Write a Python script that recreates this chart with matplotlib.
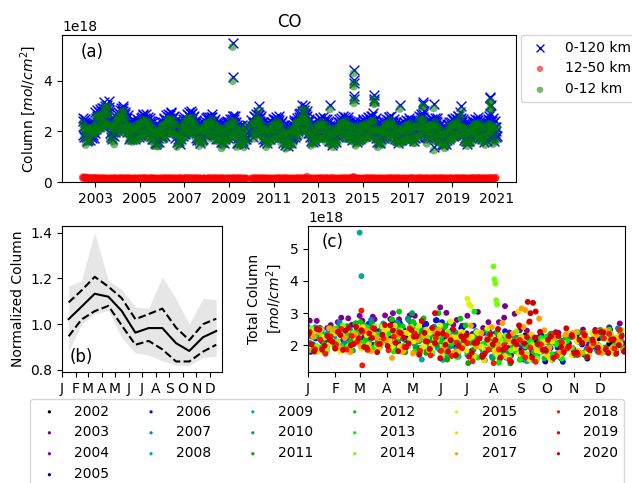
import numpy as np
import matplotlib.pyplot as plt

# CO columns, units of 1e16 molec/cm2
years = list(range(2002, 2021))
first_day = [165, 3, 5, 2, 4, 1, 3, 5, 2, 4, 1, 3, 5, 2, 4, 1, 3, 5, 2]
tot_step, trop_step, strat_step = 6, 12, 15

total_col = [
    "242 186 254 180 222 236 190 248 232 178 208 164 218 183 231 167 209 191 222 166 234 184 202 190 232 176 215 198 222 188 205 176 230 194",
    "277 223 253 209 263 238 286 222 264 246 277 221 289 239 257 225 267 281 235 293 292 238 268 224 278 253 301 237 279 261 292 236 304 254 272 230 272 286 240 298 247 193 223 179 233 188 236 172 214 196 237 181 249 199 217 200 242 256 210 268 206",
    "228 276 212 254 236 272 216 284 234 252 225 267 281 235 293 282 228 258 214 268 228 276 212 254 236 252 196 264 214 232 170 212 226 180 238 237 183 213 169 223 198 246 182 224 206 227 171 239 189 207 180 222 236 190 248 247 193 223 179 233 191",
    "242 186 254 204 222 200 242 256 210 268 267 213 243 199 253 223 271 207 249 231 247 191 259 209 227 185 227 241 195 253 237 183 213 169 223 188 236 172 214 196 212 156 224 174 192 150 192 206 160 218 227 173 203 159 213 193 241 177 219 201 181",
    "180 222 236 190 248 252 198 228 184 238 218 266 202 244 226 257 201 269 219 237 210 252 266 220 278 272 218 248 204 258 213 261 197 239 221 232 176 244 194 212 160 202 216 170 228 217 163 193 149 203 188 236 172 214 196 237 181 249 199 217 191",
    "257 203 233 189 243 223 271 207 249 231 267 211 279 229 247 215 257 271 225 283 272 218 248 204 258 213 261 197 239 221 232 176 244 194 212 165 207 221 175 233 222 168 198 154 208 183 231 167 209 191 227 171 239 189 207 185 227 241 195 253 191",
    "208 256 192 234 216 247 191 259 209 227 200 242 256 210 268 257 203 233 189 243 203 251 187 229 211 227 171 239 189 207 170 212 226 180 238 227 173 203 159 213 173 221 157 199 181 212 156 224 174 192 170 212 226 180 238 242 188 218 174 228 186",
    "237 181 249 199 217 195 237 251 205 263 262 208 238 194 248 213 261 197 239 221 212 156 224 174 192 155 197 211 165 223 222 168 198 154 208 178 226 162 204 186 207 151 219 169 187 170 212 226 180",
    "247 193 223 179 233 213 261 197 239 221 257 201 269 219 237 210 252 266 220 278 267 213 243 199 253 213 261 197 239 221 227 171 239 189 207 160 202 216 170 228 222 168 198 154 208 188 236 172 214 196 227 171 239 189 207 180 222 236 190 248 186",
    "203 251 187 229 211 247 191 259 209 227 195 237 251 205 263 247 193 223 179 233 193 241 177 219 201 212 156 224 174 192 145 187 201 155 213 212 158 188 144 198 173 221 157 199 181 212 156 224 174 192 170 212 226 180 238 247 193 223 179 233 191",
    "242 186 254 204 222 200 242 256 210 268 272 218 248 204 258 233 281 217 259 241 272 216 284 234 252 215 257 271 225 283 262 208 238 194 248 193 241 177 219 201 217 161 229 179 197 160 202 216 170 228 232 178 208 164 218 198 246 182 224 206 186",
    "185 227 241 195 253 252 198 228 184 238 208 256 192 234 216 237 181 249 199 217 180 222 236 190 248 232 178 208 164 218 178 226 162 204 186 202 146 214 164 182 155 197 211 165 223 227 173 203 159 213 193 241 177 219 201 237 181 249 199 217 191",
    "252 198 228 184 238 213 261 197 239 221 247 191 259 209 227 190 232 246 200 258 247 193 223 179 233 193 241 177 219 201 222 166 234 184 202 175 217 231 185 243 227 173 203 159 213 183 231 167 209 191 227 171 239 189 207 180 222 236 190 248 186",
    "198 246 182 224 206 237 181 249 199 217 190 232 246 200 258 252 198 228 184 238 213 261 197 239 221 262 206 274 224 242 185 227 241 195 253 227 173 203 159 213 173 221 157 199 181 212 156 224 174 192 170 212 226 180 238 242 188 218 174 228 186",
    "237 181 249 199 217 190 232 246 200 258 257 203 233 189 243 213 261 197 239 221 237 181 249 199 217 170 212 226 180 238 222 168 198 154 208 183 231 167 209 191 222 166 234 184 202 170 212 226 180 238 237 183 213 169 223 198 246 182 224 206 186",
    "185 227 241 195 253 247 193 223 179 233 198 246 182 224 206 217 161 229 179 197 175 217 231 185 243 247 193 223 179 233 213 261 197 239 221 257 201 269 219 237 215 257 271 225 283 247 193 223 179 233 193 241 177 219 201 232 176 244 194 212 186",
    "242 188 218 174 228 203 251 187 229 211 242 186 254 204 222 185 227 241 195 253 237 183 213 169 223 183 231 167 209 191 207 151 219 169 187 145 187 201 155 213 217 163 193 149 203 183 231 167 209 191 227 171 239 189 207 180 222 236 190 248 186",
    "203 251 187 229 211 242 186 254 204 222 195 237 251 205 263 262 208 238 194 248 228 276 212 254 236 237 181 249 199 217 165 207 221 175 233 217 163 193 149 203 178 226 162 204 186 217 161 229 179 197 175 217 231 185 243 242 188 218 174 228 186",
    "237 181 249 199 217 190 232 246 200 258 247 193 223 179 233 198 246 182 224 206 227 171 239 189 207 160 202 216 170 228 232 178 208 164 218 203 251 187 229 211 262 206 274 224 242 185 227 241 195 253 232 178 208 164 218 193 241 177 219 201 181",
]

trop_col = [
    "235 209 179 219 147 197 161 214 174 205 158 212 196 208 187 221 193",
    "258 200 236 217 267 206 254 262 214 242 209 275 235 268 228 291 227 263 231 271 168 220 194 219 161 212 149 224 239 191 245",
    "255 229 209 259 197 252 216 274 229 255 193 251 211 223 187 221 163 203 180 220 159 197 169 212 204 161 227 177 206 170 228",
    "233 175 211 197 247 186 234 242 194 222 174 240 200 218 178 226 162 198 171 211 143 195 169 199 141 192 142 204 174 194 220",
    "225 199 179 229 167 227 191 249 214 240 193 251 211 233 197 246 188 228 185 225 139 177 149 192 184 151 217 167 206 170 228",
    "238 180 216 202 252 196 244 252 204 232 189 255 215 228 188 231 167 203 166 206 143 195 169 214 156 202 152 214 184 204 230",
    "235 209 189 234 172 227 191 249 204 230 168 226 186 198 162 221 163 203 170 210 134 172 144 197 189 151 217 167 201 165 223",
    "228 170 206 192 242 181 229 237 184 212 139 205 165 188 148 211 147 183 161 201 138 190 164 219 161",
    "230 204 184 234 172 232 196 254 219 245 188 246 206 218 182 226 168 208 165 205 139 177 149 207 199 156 222 172 201 165 223",
    "228 170 206 192 242 176 224 232 174 202 154 220 180 193 153 196 132 168 151 191 138 190 164 209 151 197 147 209 184 204 230",
    "235 209 189 239 177 237 201 259 224 250 203 261 221 238 202 251 193 233 180 220 144 182 154 197 189 151 217 167 201 165 223",
    "228 170 206 187 237 171 219 227 174 202 159 225 185 203 163 211 147 183 151 191 138 190 164 214 156 202 152 214 184 204 230",
    "235 209 189 234 172 222 186 244 199 225 168 226 186 198 162 221 163 203 180 220 144 182 154 202 194 156 222 172 201 165 223",
    "223 165 201 182 232 171 219 227 179 207 174 240 200 243 203 236 172 208 166 206 138 190 164 209 151 197 147 209 179 199 225",
    "230 204 184 229 167 222 186 244 204 230 168 226 186 193 157 211 153 193 170 210 149 187 159 207 199 156 222 172 201 165 223",
    "228 170 206 182 232 161 209 217 154 182 154 220 180 218 178 246 182 218 206 246 198 250 224 234 176 202 152 214 179 199 225",
    "225 199 179 224 162 217 181 239 194 220 158 216 176 188 152 206 148 188 150 190 134 172 144 202 194 156 222 172 201 165 223",
    "228 170 206 187 237 176 224 232 189 217 189 255 215 218 178 216 152 188 156 196 143 195 169 214 156 202 152 214 179 199 225",
    "230 204 184 229 167 212 176 234 189 215 158 216 176 183 147 221 163 203 190 230 189 227 199 222 214 151 217 167 196 160 218",
]

strat_col = [
    "18 15 19 16 14 17 15 13 16 14 15 13 16 14",
    "15 13 16 14 12 15 13 14 16 12 14 13 15 12 13 14 12 15 13 14 12 16 14 13",
    "14 12 15 13 16 14 12 15 13 14 12 16 13 15 12 14 13 12 15 14 13 12 14 15",
    "13 15 12 14 16 13 15 12 14 13 15 12 14 16 12 13 15 14 12 13 14 12 15 13",
    "15 12 14 16 13 14 12 15 13 16 12 14 13 15 14 12 13 15 12 14 16 13 12 14",
    "14 16 12 15 13 14 16 12 13 15 14 12 16 13 14 12 15 13 14 12 13 15 14 12",
    "13 14 16 12 15 13 14 12 16 14 13 15 12 14 13 16 12 15 14 13 12 14 15 13",
    "15 13 14 12 16 14 13 15 12 14 16 13 12 15 14 13 12 14 15 13",
    "14 12 15 13 14 16 12 14 13 15 12 14 16 13 12 15 14 13 12 14 15 13 12 14",
    "13 15 12 14 13 16 14 12 15 13 14 12 16 14 13 15 12 14 13 12 15 14 13 12",
    "15 13 14 16 12 14 13 15 12 16 14 13 21 15 12 14 13 15 12 14 13 12 15 14",
    "14 12 16 13 15 12 14 13 16 14 12 15 13 14 12 16 13 15 14 12 13 14 12 15",
    "13 15 14 12 16 13 14 15 12 14 13 16 14 18 20 15 13 14 12 15 13 14 12 13",
    "15 12 14 13 16 14 12 15 13 14 16 12 13 15 14 12 13 14 15 12 14 13 15 12",
    "14 13 15 12 14 16 13 12 15 14 13 12 16 14 12 15 13 14 12 13 15 14 12 14",
    "13 14 12 16 13 15 14 12 13 15 12 14 13 16 14 12 15 13 14 12 16 13 14 12",
    "15 13 14 12 16 14 13 15 12 14 13 16 12 15 14 13 12 15 14 13 12 14 16 13",
    "14 12 15 13 14 16 12 14 13 15 12 16 14 13 15 12 14 13 12 15 14 13 16 14",
    "13 15 12 14 16 13 15 14 12 13 16 14 12 15 13 14 12 16 15 13 14 12 15 17",
]

# isolated high (and one low) retrievals
spike_year = [2003, 2003, 2004, 2004, 2009, 2009, 2010, 2012, 2012, 2013, 2014, 2014, 2014, 2014,
              2014, 2015, 2015, 2015, 2016, 2017, 2017, 2018, 2018, 2019, 2020, 2020, 2020, 2020]
spike_day = [152, 226, 60, 98, 60, 62, 120, 105, 150, 191, 213, 214, 215, 216,
             217, 183, 185, 187, 241, 245, 249, 62, 63, 146, 252, 255, 258, 261]
spike_total = [318, 322, 292, 300, 550, 415, 300, 305, 300, 305, 445, 405, 392, 340,
               327, 345, 328, 322, 305, 315, 310, 308, 138, 300, 335, 300, 332, 305]
spike_trop = [298, 300, 275, 282, 535, 400, 285, 288, 285, 288, 430, 390, 378, 325,
              312, 330, 313, 308, 290, 300, 295, 292, 125, 282, 318, 285, 314, 290]

# normalized seasonal cycle (panel b)
mid_day = [16, 45, 75, 106, 136, 167, 197, 228, 259, 289, 320, 350]
norm_mean = [1.022, 1.076, 1.133, 1.120, 1.058, 0.963, 0.983, 0.983, 0.917, 0.883, 0.943, 0.970]
norm_plus = [1.095, 1.147, 1.207, 1.164, 1.114, 1.022, 1.044, 1.068, 0.985, 0.930, 1.000, 1.024]
norm_minus = [0.947, 1.020, 1.057, 1.080, 0.995, 0.910, 0.927, 0.890, 0.837, 0.837, 0.880, 0.910]
norm_max = [1.167, 1.190, 1.400, 1.190, 1.153, 1.075, 1.070, 1.207, 1.110, 1.000, 1.113, 1.107]
norm_min = [0.880, 1.000, 1.045, 1.060, 0.940, 0.875, 0.865, 0.840, 0.820, 0.820, 0.855, 0.860]

month_start = [1, 32, 60, 91, 121, 152, 182, 213, 244, 274, 305, 335]
month_lab = ['J', 'F', 'M', 'A', 'M', 'J', 'J', 'A', 'S', 'O', 'N', 'D']


def series(strings, step):
    out = []
    for yr, d0, s in zip(years, first_day, strings):
        v = np.array(s.split(), float) * 1e16
        d = d0 + step * np.arange(len(v))
        out.append((yr, d, v))
    return out


tot = series(total_col, tot_step)
trop = series(trop_col, trop_step)
strat = series(strat_col, strat_step)

sp_year = np.array(spike_year)
sp_day = np.array(spike_day, float)


def dec_year(yr, d):
    return yr + (d - 1) / 365.0


fig = plt.figure(figsize=(6.32, 4.83), dpi=100)
ax1 = fig.add_axes([62/632, 1-182/483, 454/632, 147/483])
ax2 = fig.add_axes([62/632, 1-372/483, 160/632, 146/483])
ax3 = fig.add_axes([308/632, 1-372/483, 317/632, 146/483])

# (a) time series
tx = np.concatenate([dec_year(y, d) for y, d, v in tot] + [dec_year(sp_year, sp_day)])
ty = np.concatenate([v for y, d, v in tot] + [np.array(spike_total) * 1e16])
gx = np.concatenate([dec_year(y, d) for y, d, v in trop] + [dec_year(sp_year, sp_day)])
gy = np.concatenate([v for y, d, v in trop] + [np.array(spike_trop) * 1e16])
rx = np.concatenate([dec_year(y, d) for y, d, v in strat])
ry = np.concatenate([v for y, d, v in strat])

ax1.scatter(tx, ty, marker='x', color='blue', s=50, linewidths=1, label='0-120 km')
ax1.scatter(rx, ry, color='red', s=32, alpha=0.6, edgecolors='none', label='12-50 km')
ax1.scatter(gx, gy, color='green', s=34, alpha=0.55, edgecolors='none', label='0-12 km')
ax1.set_xlim(2001.52, 2021.85)
ax1.set_ylim(0, 5.82e18)
ax1.set_yticks([0, 2e18, 4e18])
ax1.set_xticks(range(2003, 2022, 2))
ax1.set_xticklabels([str(y) for y in range(2003, 2022, 2)])
ax1.set_ylabel('Column [$mol/cm^2$]')
ax1.set_title('CO')
ax1.text(0.04, 0.885, '(a)', transform=ax1.transAxes, fontsize=12, va='center')
ax1.legend(loc='upper left', bbox_to_anchor=(1.01, 1.0), borderaxespad=0, markerscale=0.8)

# (b) seasonal cycle
ax2.fill_between(mid_day, norm_min, norm_max, color='0.9', lw=0)
ax2.plot(mid_day, norm_mean, 'k-', lw=1.5)
ax2.plot(mid_day, norm_plus, 'k--', lw=1.5)
ax2.plot(mid_day, norm_minus, 'k--', lw=1.5)
ax2.set_xlim(1, 363)
ax2.set_xticks(month_start)
ax2.set_xticklabels(month_lab)
ax2.set_yticks([0.8, 1.0, 1.2, 1.4])
ax2.set_ylabel('Normalized Column')
ax2.text(0.045, 0.1, '(b)', transform=ax2.transAxes, fontsize=12, va='center')

# (c) total column by day of year
cols = plt.cm.nipy_spectral(np.arange(len(years)) / len(years))
handles = []
for i, (yr, d, v) in enumerate(tot):
    m = sp_year == yr
    dd = np.concatenate([d, sp_day[m]])
    vv = np.concatenate([v, np.array(spike_total)[m] * 1e16])
    h = ax3.scatter(dd, vv, color=cols[i], s=18, edgecolors='none', label=str(yr))
    handles.append(h)
ax3.set_xlim(1, 363)
ax3.set_xticks(month_start)
ax3.set_xticklabels(month_lab)
ax3.set_yticks([2e18, 3e18, 4e18, 5e18])
ax3.set_ylabel('Total Column\n[$mol/cm^2$]')
ax3.text(0.043, 0.893, '(c)', transform=ax3.transAxes, fontsize=12, va='center')

fig.legend(handles, [str(y) for y in years], ncol=6, loc='upper left',
           bbox_to_anchor=(23/632, 1-392/483), markerscale=0.55)

fig.savefig('out.png', dpi=100)
